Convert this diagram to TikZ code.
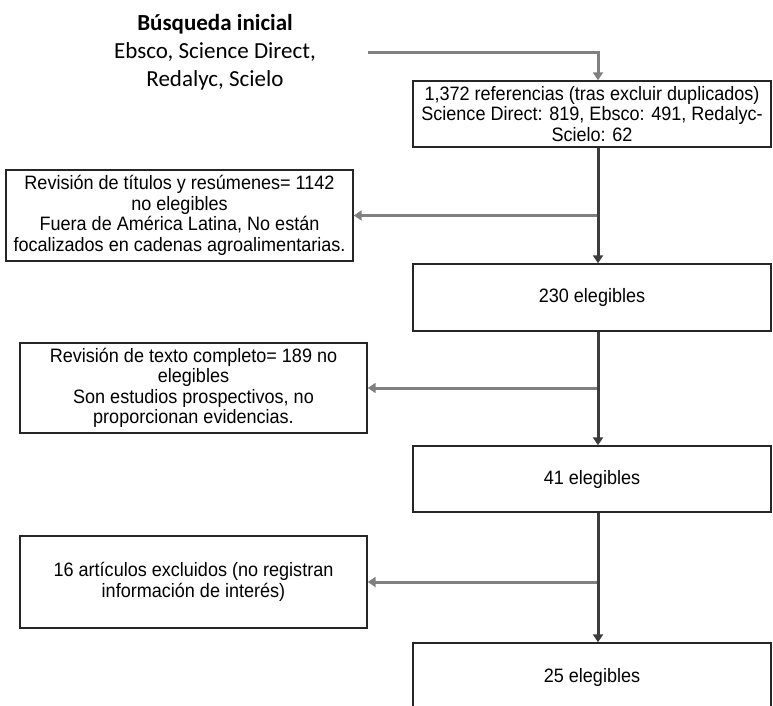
\documentclass[tikz,border=0pt]{standalone}
\usepackage{fontspec}
\setmainfont{Liberation Sans}[FakeStretch=0.93]
\newfontfamily\titlefont{Carlito}
\usetikzlibrary{arrows.meta}
\definecolor{darkc}{HTML}{3C3C3C}
\definecolor{grayc}{HTML}{808080}
\definecolor{boxc}{HTML}{262626}
\begin{document}
\begin{tikzpicture}[x=1pt,y=-1pt,
  box/.style={draw=boxc, line width=1.4pt, inner sep=0pt, align=center,
    font=\fontsize{19.4}{20.5}\selectfont},
  mainarrow/.style={line width=3pt, draw=darkc, -{Triangle[width=10pt,length=8pt]}},
  sidearrow/.style={line width=3pt, draw=grayc, -{Triangle[width=10pt,length=8pt]}}]
\clip (0,0) rectangle (773,705);
\fill[white] (0,0) rectangle (773,705);
% title
\node[align=center, font=\titlefont\fontsize{23}{28}\selectfont] (t) at (215,52)
  {{\bfseries Búsqueda inicial}\\Ebsco, Science Direct,\\Redalyc, Scielo};
% main column
\node[box, minimum width=358pt, minimum height=66pt] (r1) at (592,114)
  {1,372 referencias (tras excluir duplicados)\\Science Direct: 819, Ebsco: 491, Redalyc-\\Scielo: 62};
\node[box, minimum width=358pt, minimum height=67pt] (e230) at (592,297.5) {230 elegibles};
\node[box, minimum width=358pt, minimum height=66pt] (e41) at (592,479) {41 elegibles};
\node[box, minimum width=358pt, minimum height=68pt] (e25) at (592,677) {25 elegibles};
% side boxes
\node[box, minimum width=347pt, minimum height=91pt] (ea) at (179.5,215.5)
  {Revisión de títulos y resúmenes= 1142\\no elegibles\\Fuera de América Latina, No están\\focalizados en cadenas agroalimentarias.};
\node[box, minimum width=347pt, minimum height=90pt] (eb) at (193.5,388)
  {Revisión de texto completo= 189 no\\elegibles\\Son estudios prospectivos, no\\proporcionan evidencias.};
\node[box, minimum width=347pt, minimum height=92pt] (ec) at (193.5,582)
  {16 artículos excluidos (no registran\\información de interés)};
% connectors
\coordinate (spine) at (598,0);
\coordinate (s0) at (368,52);
\coordinate (ja) at (spine |- ea.east);
\coordinate (jb) at (spine |- eb.east);
\coordinate (jc) at (spine |- ec.east);
\draw[sidearrow] (s0) -| (r1.north -| spine);
\draw[sidearrow] (ja) -- (ea.east);
\draw[sidearrow] (jb) -- (eb.east);
\draw[sidearrow] (jc) -- (ec.east);
\draw[mainarrow] (r1.south -| spine) -- (e230.north -| spine);
\draw[mainarrow] (e230.south -| spine) -- (e41.north -| spine);
\draw[mainarrow] (e41.south -| spine) -- (e25.north -| spine);
\end{tikzpicture}
\end{document}
